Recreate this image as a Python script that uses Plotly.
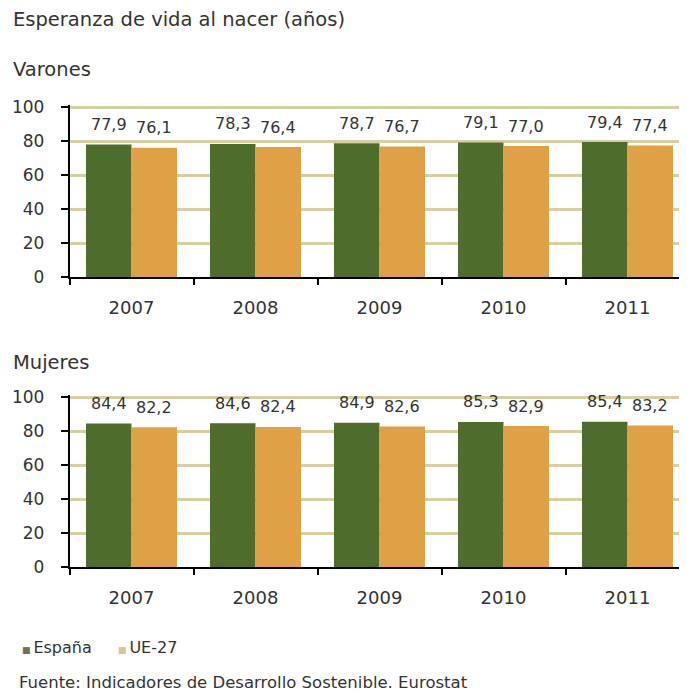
import plotly.graph_objects as go

years = ["2007", "2008", "2009", "2010", "2011"]
varones_espana = [77.9, 78.3, 78.7, 79.1, 79.4]
varones_ue27 = [76.1, 76.4, 76.7, 77.0, 77.4]
mujeres_espana = [84.4, 84.6, 84.9, 85.3, 85.4]
mujeres_ue27 = [82.2, 82.4, 82.6, 82.9, 83.2]
y_ticks = [0, 20, 40, 60, 80, 100]

title_text = "Esperanza de vida al nacer (años)"
sub1 = "Varones"
sub2 = "Mujeres"
source_text = "Fuente: Indicadores de Desarrollo Sostenible. Eurostat"
series_names = ["España", "UE-27"]

GREEN = "#4E6D2C"
ORANGE = "#DFA046"
GRID = "#D7D09E"
TEXT = "#333333"
LEG_GREEN = "#66774F"
LEG_TAN = "#D5C58C"
FONT = "DejaVu Sans, Verdana, sans-serif"

# page body has an 8px margin: work in reference pixels and subtract it
OFF = 8
W, H = 687 - OFF, 693 - OFF
BARGAP = 0.266
Y_MAX = 101  # small headroom so the 100 gridline is drawn

def fmt(v):
    return f"{v:.1f}".replace(".", ",")

def px(x_ref):
    return (x_ref - OFF) / W

def py(y_ref):
    return 1 - (y_ref - OFF) / H

fig = go.Figure()

panels = [("x", "y", varones_espana, varones_ue27),
          ("x2", "y2", mujeres_espana, mujeres_ue27)]

annotations = []
px_per_cat = 124
off = px_per_cat * (1 - BARGAP) / 4
for xa, ya, esp, ue in panels:
    fig.add_trace(go.Bar(x=years, y=esp, name=series_names[0], marker_color=GREEN,
                         marker_line_width=0, xaxis=xa, yaxis=ya, showlegend=False))
    fig.add_trace(go.Bar(x=years, y=ue, name=series_names[1], marker_color=ORANGE,
                         marker_line_width=0, xaxis=xa, yaxis=ya, showlegend=False))
    for i, (a, b) in enumerate(zip(esp, ue)):
        for val, sh in ((a, -off), (b, off)):
            annotations.append(dict(x=i, y=val, xref=xa, yref=ya, text=fmt(val),
                                    showarrow=False, xshift=sh, yshift=20,
                                    yanchor="middle",
                                    font=dict(size=16, color=TEXT, family=FONT)))

px_per_unit = 170 / 100
x_dom = [px(69.5), 1.0]
x_range = [-0.5, -0.5 + (687 - 69.5) / px_per_cat]

axis_common_x = dict(type="category", range=x_range, showline=True, linecolor="black",
                     linewidth=1.5, ticks="outside", tickson="boundaries", ticklen=6,
                     tickcolor="black", tickwidth=1.5, showgrid=False, automargin=False,
                     tickfont=dict(size=18, color=TEXT, family=FONT),
                     ticklabelstandoff=14, domain=x_dom)
axis_common_y = dict(range=[0, Y_MAX], tickvals=y_ticks, showline=True, linecolor="black",
                     linewidth=1.5, ticks="outside", ticklen=7, tickcolor="black",
                     tickwidth=1.5, showgrid=True, gridcolor=GRID, gridwidth=2.5,
                     zeroline=False, automargin=False,
                     tickfont=dict(size=17, color=TEXT, family=FONT),
                     ticklabelstandoff=13)

top_extra = (Y_MAX - 100) * px_per_unit

fig.update_layout(
    template="none",
    width=W, height=H,
    margin=dict(l=0, r=0, t=0, b=0, pad=0, autoexpand=False),
    paper_bgcolor="white", plot_bgcolor="white",
    barmode="group", bargap=BARGAP, bargroupgap=0,
    showlegend=False,
    xaxis=dict(**axis_common_x, anchor="y"),
    yaxis=dict(**axis_common_y, domain=[py(277), py(107 - top_extra)], anchor="x"),
    xaxis2=dict(**axis_common_x, anchor="y2"),
    yaxis2=dict(**axis_common_y, domain=[py(567), py(397 - top_extra)], anchor="x2"),
    font=dict(family=FONT, color=TEXT),
)

def paper_text(text, x_ref, y_ref, size):
    return dict(text=text, x=px(x_ref), y=py(y_ref), xref="paper", yref="paper",
                xanchor="left", yanchor="middle", showarrow=False,
                font=dict(size=size, color=TEXT, family=FONT))

annotations.append(paper_text(title_text, 11, 20, 19.5))
annotations.append(paper_text(sub1, 11, 69, 19.5))
annotations.append(paper_text(sub2, 11, 362, 19.5))
annotations.append(paper_text(
    f"<span style='color:{LEG_GREEN};font-size:9px'>■ </span>{series_names[0]}",
    20, 647, 16))
annotations.append(paper_text(
    f"<span style='color:{LEG_TAN};font-size:9px'>■ </span>{series_names[1]}",
    116, 647, 16))
annotations.append(paper_text(source_text, 17, 682, 16.5))

fig.update_layout(annotations=annotations)

fig.write_html("out.html")
